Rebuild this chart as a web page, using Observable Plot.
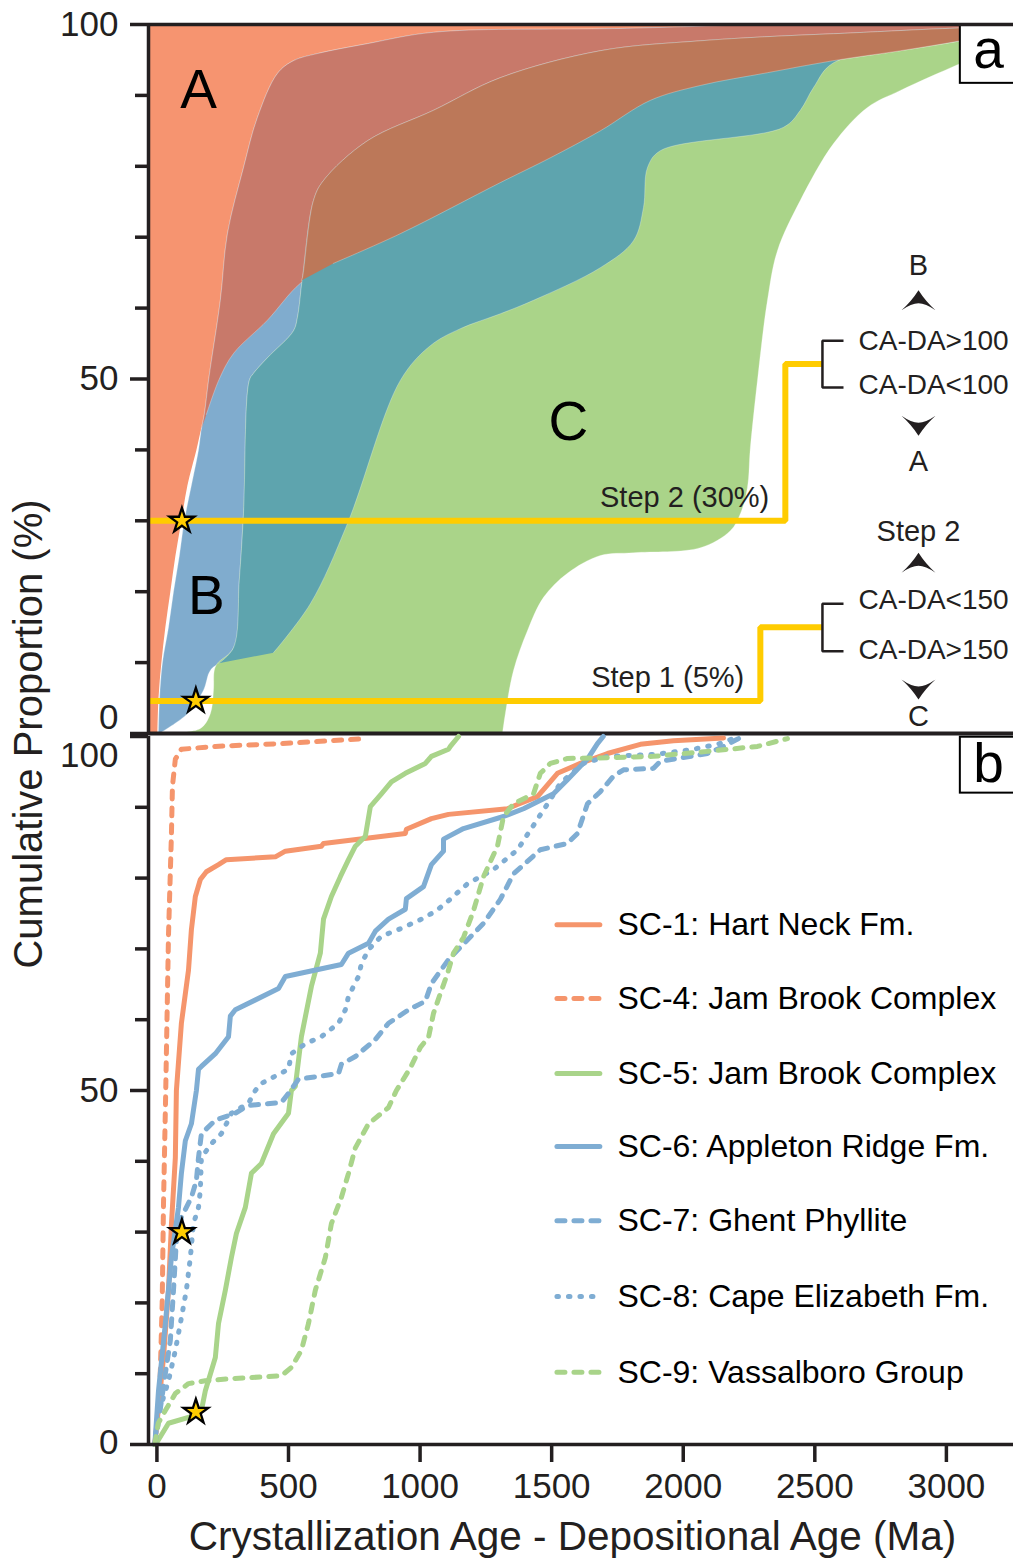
<!DOCTYPE html>
<html>
<head>
<meta charset="utf-8">
<script src="https://cdn.jsdelivr.net/npm/d3@7"></script>
<script src="https://cdn.jsdelivr.net/npm/@observablehq/plot@0.6"></script>
<style>
  body { margin: 0; background: #fff; }
  #fig { position: relative; width: 1013px; height: 1559px; font-family: "Liberation Sans", Arial, Helvetica, sans-serif; }
  #fig svg { position: absolute; left: 0; overflow: visible; }
  #ylabel { position: absolute; left: 28px; top: 734px; transform: translate(-50%, -50%) rotate(-90deg);
            white-space: nowrap; font-size: 40px; line-height: 1; color: #231F20; z-index: 5; }
</style>
</head>
<body>
<div id="fig"></div>
<script>
// ---------------- DATA ----------------
// Panel a: envelope boundaries, [CA-DA (Ma), cumulative %]
const envA_right = [[2,0],[6,5],[17,10],[32,15],[51,20],[70,25],[93,30],[116,35],[150,40],[169,43],[188,45],[237,50],[291,53.6],[420,58.3],[545,63.5],[670,66.3],[925,70.5],[1305,77.7],[1495,81.2],[1685,85],[1875,89.3],[2065,91.4],[2320,93.2],[2570,94.9],[2825,96.3],[3053,97.7],[3255,99.2]];
const envB_left = [[6,0],[10,5],[21,10],[44,15],[63,20],[85,25],[104,30],[131,35],[158,40],[169,43],[180,45],[197,50],[241,61.1],[268,70.5],[329,79.8],[382,86.9],[458,93.1],[519,94.9],[610,95.9],[800,97.3],[1051,98.9],[1700,99.4],[3255,99.8]];
const envB_right = [[13,0.1],[116,2.8],[177,6.1],[203,8.9],[241,9.9],[443,11.4],[583,18.3],[724,29.6],[925,49.8],[1039,54.7],[1153,57.1],[1305,59.2],[1431,61.1],[1685,65.7],[1811,69.5],[1849,74.2],[1864,79.8],[1913,82.2],[2381,85.5],[2445,87.9],[2495,91.1],[2571,94.6],[3053,97.7],[3255,99.2]];
const envC_left = [[63,0.1],[165,0.7],[203,2.8],[215,6.1],[218,8.9],[230,9.9],[291,12.1],[313,21.6],[329,31],[351,49.8],[367,50.8],[420,53],[519,56.8],[534,58.7],[553,64.3],[595,75.2],[633,78],[800,83.6],[1051,87.9],[1305,92.5],[1685,96.3],[2065,97.7],[2571,98.7],[3255,99.4]];
const envC_right = [[1313,0],[1324,2.8],[1355,8.9],[1408,14.5],[1469,19.2],[1560,22.6],[1685,25.1],[1811,25.5],[2065,26.2],[2179,28.6],[2217,31],[2244,34.7],[2255,40.3],[2282,49.8],[2320,61.1],[2358,68.1],[2445,75.2],[2571,83.2],[2700,88.3],[2825,90.7],[3053,94.5],[3255,97.7]];
// where the boundaries cross
const crossAB = [169, 43];
const crossBC = [235, 9.9];
const crossABC = [549, 63.9];

// Panel b: cumulative curves per sample, [CA-DA (Ma), cumulative %]
const sc1 = [[-8,0],[6,5.2],[25,12.3],[44,21.8],[55,31],[70,40.5],[74,50],[93,59.5],[120,67],[131,72.7],[146,77.4],[165,79.8],[188,80.9],[234,81.9],[264,82.6],[450,83],[488,83.8],[625,84.5],[633,84.9],[944,86.3],[948,86.9],[1043,88.4],[1108,89],[1332,89.8],[1370,90.4],[1446,91.5],[1522,94.8],[1609,96.2],[1712,97.6],[1837,98.9],[1963,99.4],[2153,99.8]];
const sc4 = [[-8,0],[2,3],[12,9],[20,20],[25,34],[33,49],[44,72],[55,86],[59,93],[70,96.8],[93,98.2],[222,98.6],[473,99],[792,99.7]];
const sc5 = [[-5,0],[44,3],[146,4.1],[169,4.8],[184,7.6],[222,12.3],[234,17.1],[260,21.8],[283,26.4],[302,29.8],[336,33.5],[359,38.3],[397,39.7],[443,43.9],[500,46.8],[511,50],[526,50.6],[549,57.6],[587,64.7],[621,69.4],[633,74.2],[663,77.4],[697,80.2],[728,82.6],[754,84.5],[792,85.9],[811,90.1],[853,91.9],[891,93.6],[944,94.8],[1020,96.2],[1043,97.2],[1108,98.2],[1115,98.6],[1146,100]];
const sc6 = [[-8,0],[6,7.6],[32,17.1],[55,26.4],[82,33.5],[93,38.3],[108,42.9],[131,45.3],[150,50],[158,53],[169,53.4],[222,55.2],[272,57.6],[279,60.5],[298,61.4],[462,64.4],[488,66.1],[701,67.8],[728,69.4],[804,70.8],[830,72.5],[880,74.2],[944,75.6],[948,77.1],[1013,78.8],[1043,81.9],[1089,83.8],[1089,85.5],[1165,87],[1317,88.7],[1393,89.8],[1507,91.9],[1560,93.9],[1609,95.8],[1636,96.8],[1674,99],[1696,100]];
const sc7 = [[-8,0],[5,3],[32,10],[51,14.7],[63,21.8],[74,28.8],[93,32.1],[131,34.9],[150,37.3],[158,40.5],[169,43.9],[222,45.8],[298,46.8],[348,47.9],[473,48.3],[500,49.6],[538,51.6],[690,52.4],[701,53.7],[754,54.8],[830,57.2],[880,59.5],[956,61.4],[1020,62.6],[1043,65.1],[1108,68.5],[1142,69.8],[1241,73.6],[1305,77],[1355,80.6],[1457,84],[1560,84.9],[1598,86.3],[1636,90.5],[1685,92.2],[1735,94.4],[1773,95.3],[1887,95.5],[1913,96.5],[2092,97.6],[2153,98.6],[2205,99.6],[2225,100]];
const sc8 = [[-8,0],[3,4],[44,9],[70,13.3],[93,17.9],[112,21.8],[127,26.4],[139,31.2],[158,33.5],[165,35.9],[169,40.5],[207,42.5],[245,43.9],[264,45.3],[283,46.8],[348,48.2],[374,50],[397,51],[500,53],[511,55.2],[564,56.6],[625,57.6],[690,59.5],[716,61.4],[728,63.3],[766,66.1],[777,67.9],[804,69.9],[853,71.8],[929,72.9],[1005,74.2],[1058,75.3],[1096,76.4],[1180,79.2],[1279,81.2],[1370,84],[1446,88.3],[1495,91.1],[1533,93.4],[1621,96.2],[1712,97.2],[1902,97.5],[2039,98.2],[2130,98.9],[2190,99.7]];
const sc9 = [[-8,0],[5,3],[32,4.8],[70,7.2],[120,8.6],[184,9],[283,9.3],[473,9.7],[511,10.9],[549,13.3],[576,17.1],[602,21.8],[640,26.4],[663,31.2],[701,34.9],[728,38.3],[754,41.9],[804,45.3],[880,47.6],[910,50],[963,53.2],[1001,56.1],[1032,57.5],[1051,60.9],[1077,63.7],[1104,66.5],[1127,69.4],[1165,71.6],[1203,75.4],[1241,80.2],[1294,84.5],[1317,88.7],[1355,90.5],[1431,91.9],[1457,94.8],[1495,96.2],[1560,96.9],[1712,97],[1887,97.2],[2092,97.9],[2282,98.6],[2396,99.7]];
const seriesLabels = ["SC-1: Hart Neck Fm.","SC-4: Jam Brook Complex","SC-5: Jam Brook Complex","SC-6: Appleton Ridge Fm.","SC-7: Ghent Phyllite","SC-8: Cape Elizabeth Fm.","SC-9: Vassalboro Group"];
const seriesData = [sc1, sc4, sc5, sc6, sc7, sc8, sc9];

// thresholds / annotations
const stars = [[95,30],[148,4.6]];
const step2Path = [[-32,30],[2388,30],[2388,52.1],[2529,52.1]];
const step1Path = [[-32,4.6],[2293,4.6],[2293,15],[2529,15]];
const bracket2 = [[2609,55.4],[2529,55.4],[2529,48.8],[2609,48.8]];
const bracket1 = [[2609,18.3],[2529,18.3],[2529,11.6],[2609,11.6]];
const sideLabels = [{x:2894,y:66,t:"B"},{x:2894,y:38.4,t:"A"},{x:2894,y:28.4,t:"Step 2"},{x:2894,y:2.3,t:"C"}];
const ruleLabels = [{x:2666,y:55.4,t:"CA-DA>100"},{x:2666,y:49.2,t:"CA-DA<100"},{x:2666,y:18.8,t:"CA-DA<150"},{x:2666,y:11.8,t:"CA-DA>150"}];
const arrowsUp = [[2894,61.1],[2894,24.1]];
const arrowsDown = [[2894,43.4],[2894,6.2]];
const stepLabels = [{x:2327,y:33.3,t:"Step 2 (30%)"},{x:2232,y:7.8,t:"Step 1 (5%)"}];
const regionLabels = [{x:158,y:90.7,t:"A"},{x:188,y:19.3,t:"B"},{x:1563,y:43.9,t:"C"}];
const xTicks = [0,500,1000,1500,2000,2500,3000];
const yMajor = [0,50,100];
const yMinor = [10,20,30,40,60,70,80,90];

// ---------------- STYLE / LAYOUT ----------------
const FONT = '"Liberation Sans", Arial, Helvetica, sans-serif';
const INK = "#231F20";
const W = 1013;
const xDomain = [-32, 3255];
const col = {A:"#F69470", AB:"#C8796A", ABC:"#BC7859", B:"#80ACCE", BC:"#5EA4AE", C:"#AAD489"};
const lineCol = {orange:"#F5956C", green:"#A9D48A", blue:"#7FADD3"};
const seriesStyle = [
  {stroke: lineCol.orange, dash: null},
  {stroke: lineCol.orange, dash: "8,9"},
  {stroke: lineCol.green, dash: null},
  {stroke: lineCol.blue, dash: null},
  {stroke: lineCol.blue, dash: "8,9"},
  {stroke: lineCol.blue, dash: "1.5,10"},
  {stroke: lineCol.green, dash: "8,9"}
];
const legendLayout = {x1: 1522, x2: 1685, xt: 1750, y: [73.4,63.0,52.4,42.1,31.6,20.9,10.2]};

const X = d => d[0], Y = d => d[1];
const poly = (pts, fill, outline) => Plot.line(pts, {x: X, y: Y, fill, stroke: outline ? "white" : "none", strokeOpacity: 0.35, strokeWidth: 0.8, curve: "catmull-rom", clip: true});

const arrowUp = {draw(c){ c.moveTo(0,-10); c.quadraticCurveTo(7,1,17,10); c.quadraticCurveTo(7,3,0,3); c.quadraticCurveTo(-7,3,-17,10); c.quadraticCurveTo(-7,1,0,-10); c.closePath(); }};
const arrowDown = {draw(c){ c.moveTo(0,10); c.quadraticCurveTo(7,-1,17,-10); c.quadraticCurveTo(7,-3,0,-3); c.quadraticCurveTo(-7,-3,-17,-10); c.quadraticCurveTo(-7,-1,0,10); c.closePath(); }};

// polygons
const polyA = [[xDomain[0],0],[xDomain[0],100],[xDomain[1],100], ...envA_right.slice().reverse()];
const polyB = [...envB_left, ...envB_right.slice().reverse()];
const polyC = [...envC_left, ...envC_right.slice().reverse()];
const polyAB = [crossAB, ...envB_left.filter(d => d[1] > crossAB[1]), ...envA_right.filter(d => d[1] > crossAB[1]).reverse()];
const polyBC = [crossBC, ...envC_left.filter(d => d[1] > crossBC[1]), ...envB_right.filter(d => d[1] > crossBC[1]).reverse()];
const polyABC = [crossABC, ...envC_left.filter(d => d[1] > crossABC[1]), ...envA_right.filter(d => d[1] > crossABC[1]).reverse()];

const yTickMarks = (labelOpts) => [
  Plot.axisY(yMinor, {tickSize: 13, strokeWidth: 3.5, stroke: INK, tickFormat: () => "", label: null}),
  Plot.axisY(yMajor, {tickSize: 18, strokeWidth: 3.5, stroke: INK, tickFormat: () => "", label: null}),
  ...labelOpts.map(o => Plot.text([o.v], {y: d => d, frameAnchor: "left", dx: -30, dy: o.dy, textAnchor: "end", fontSize: 35, fill: INK, text: d => String(d)}))
];

const starMark = Plot.dot(stars, {x: X, y: Y, symbol: "star", r: 7.8, fill: "#FFCC00", stroke: "black", strokeWidth: 2.3});

// ---------------- PANEL A ----------------
const plotA = Plot.plot({
  width: W, height: 735,
  marginTop: 24, marginBottom: 2, marginLeft: 148, marginRight: 0,
  x: {domain: xDomain, axis: null},
  y: {domain: [0, 100], axis: null},
  style: {fontFamily: FONT, background: "transparent", color: INK, overflow: "visible"},
  marks: [
    poly(polyA, col.A, false),
    poly(polyB, col.B, true),
    poly(polyC, col.C, true),
    poly(polyAB, col.AB, true),
    poly(polyBC, col.BC, true),
    poly(polyABC, col.ABC, true),
    Plot.line(step2Path, {x: X, y: Y, stroke: "#FFCC00", strokeWidth: 6, strokeLinejoin: "miter", strokeLinecap: "butt"}),
    Plot.line(step1Path, {x: X, y: Y, stroke: "#FFCC00", strokeWidth: 6, strokeLinejoin: "miter", strokeLinecap: "butt"}),
    Plot.line(bracket2, {x: X, y: Y, stroke: INK, strokeWidth: 2.5, strokeLinejoin: "miter", strokeLinecap: "butt"}),
    Plot.line(bracket1, {x: X, y: Y, stroke: INK, strokeWidth: 2.5, strokeLinejoin: "miter", strokeLinecap: "butt"}),
    starMark,
    Plot.text(sideLabels, {x: "x", y: "y", text: "t", fontSize: 29, fill: INK}),
    Plot.text(ruleLabels, {x: "x", y: "y", text: "t", fontSize: 28, fill: INK, textAnchor: "start"}),
    Plot.text(stepLabels, {x: "x", y: "y", text: "t", fontSize: 29, fill: INK, textAnchor: "end"}),
    Plot.text(regionLabels, {x: "x", y: "y", text: "t", fontSize: 55, fill: "black"}),
    Plot.dot(arrowsUp, {x: X, y: Y, symbol: arrowUp, r: 5, fill: INK, stroke: "none"}),
    Plot.dot(arrowsDown, {x: X, y: Y, symbol: arrowDown, r: 5, fill: INK, stroke: "none"}),
    Plot.rect([{x1: 3053, x2: 3400, y1: 91.7, y2: 100}], {x1: "x1", x2: "x2", y1: "y1", y2: "y2", fill: "white", stroke: "black", strokeWidth: 2}),
    Plot.text(["a"], {x: 3160, y: 96.3, text: d => d, fontSize: 55, fill: "black"}),
    Plot.ruleY([100], {stroke: INK, strokeWidth: 3.5}),
    Plot.ruleY([0], {stroke: INK, strokeWidth: 4}),
    Plot.ruleX([xDomain[0]], {stroke: INK, strokeWidth: 3.5}),
    ...yTickMarks([{v: 100, dy: 0}, {v: 50, dy: 0}, {v: 0, dy: -16}])
  ]
});
plotA.style.top = "0px";

// ---------------- PANEL B ----------------
const lineMarks = seriesData.map((data, i) => Plot.line(data, {
  x: X, y: Y, stroke: seriesStyle[i].stroke, strokeWidth: 5,
  strokeDasharray: seriesStyle[i].dash, strokeLinecap: "round", strokeLinejoin: "round"
}));
const legendMarks = seriesLabels.flatMap((lab, i) => [
  Plot.ruleY([legendLayout.y[i]], {x1: legendLayout.x1, x2: legendLayout.x2, stroke: seriesStyle[i].stroke, strokeWidth: 5, strokeDasharray: seriesStyle[i].dash, strokeLinecap: "round"}),
  Plot.text([lab], {x: legendLayout.xt, y: legendLayout.y[i], text: d => d, textAnchor: "start", fontSize: 32, fill: "black"})
]);

const plotB = Plot.plot({
  width: W, height: 824,
  marginTop: 1, marginBottom: 115, marginLeft: 148, marginRight: 0,
  x: {domain: xDomain, axis: null},
  y: {domain: [0, 100], axis: null},
  style: {fontFamily: FONT, background: "transparent", color: INK, overflow: "visible"},
  marks: [
    ...lineMarks,
    starMark,
    ...legendMarks,
    Plot.rect([{x1: 3053, x2: 3400, y1: 92.0, y2: 99.9}], {x1: "x1", x2: "x2", y1: "y1", y2: "y2", fill: "white", stroke: "black", strokeWidth: 2}),
    Plot.text(["b"], {x: 3160, y: 96.0, text: d => d, fontSize: 55, fill: "black"}),
    Plot.ruleY([0], {stroke: INK, strokeWidth: 3.5}),
    Plot.ruleX([xDomain[0]], {stroke: INK, strokeWidth: 3.5}),
    ...yTickMarks([{v: 100, dy: 19}, {v: 50, dy: 0}, {v: 0, dy: -2}]),
    Plot.axisX(xTicks, {tickSize: 18, tickPadding: 11, fontSize: 35, strokeWidth: 3.5, stroke: INK, fill: INK, label: null, tickFormat: d => String(d)}),
    Plot.text(["Crystallization Age - Depositional Age (Ma)"], {x: 1579, frameAnchor: "bottom", dy: 105, text: d => d, fontSize: 40.5, fill: INK})
  ]
});
plotB.style.top = "735px";

const fig = document.getElementById("fig");
fig.appendChild(plotA);
fig.appendChild(plotB);
const yl = document.createElement("div");
yl.id = "ylabel";
yl.textContent = "Cumulative Proportion (%)";
fig.appendChild(yl);
</script>
</body>
</html>
